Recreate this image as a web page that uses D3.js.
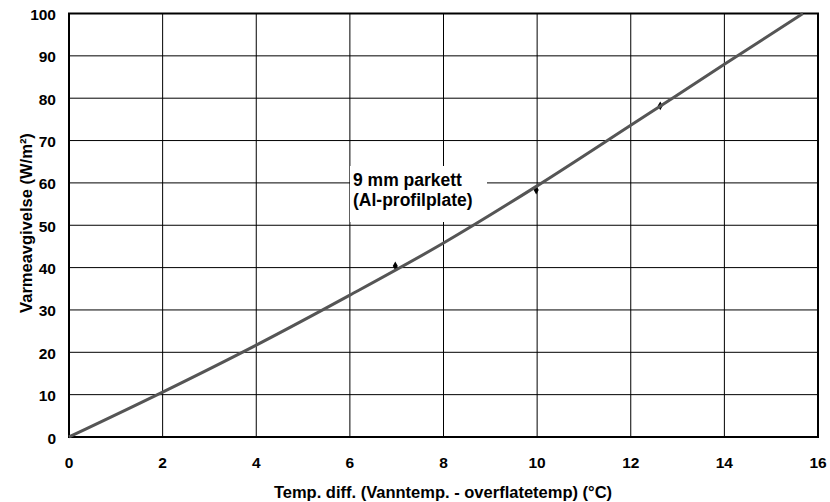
<!DOCTYPE html>
<html>
<head>
<meta charset="utf-8">
<script src="https://cdn.jsdelivr.net/npm/d3@7"></script>
<style>
  body { margin: 0; background: #fff; }
  svg text { font-family: "Liberation Sans", Arial, sans-serif; font-weight: bold; fill: #000; }
</style>
</head>
<body>
<div class="chart"></div>
<script>
// verdier lest fra figuren
const xTicks = [0, 2, 4, 6, 8, 10, 12, 14, 16]
const yTicks = [0, 10, 20, 30, 40, 50, 60, 70, 80, 90, 100]
const curveX = [0, 2, 4, 6, 8, 10, 12, 14, 15.68]
const curveY = [0, 10.6, 21.7, 33.5, 45.8, 59.3, 73.6, 88, 100]
const pointX = [6.97, 9.98, 12.63]
const pointY = [40.4, 58.3, 78.2]
const labelLines = ["9 mm parkett", "(Al-profilplate)"]

const width = 830
const height = 502
const margin = { left: 69, top: 13.5, right: 12, bottom: 65 }

const svg = d3.select(".chart").append("svg")
	.attr("width", width)
	.attr("height", height)

const x = d3.scaleLinear().domain([0, 16]).range([margin.left, width - margin.right])
const y = d3.scaleLinear().domain([0, 100]).range([height - margin.bottom, margin.top])

// rutenett
svg.append("g")
	.selectAll("line")
	.data(xTicks.slice(1, -1))
	.enter()
	.append("line")
	.attr("x1", d => x(d)).attr("x2", d => x(d))
	.attr("y1", y(0)).attr("y2", y(100))
	.attr("stroke", "#000")
	.attr("stroke-width", 1)

svg.append("g")
	.selectAll("line")
	.data(yTicks.slice(1, -1))
	.enter()
	.append("line")
	.attr("x1", x(0)).attr("x2", x(16))
	.attr("y1", d => y(d)).attr("y2", d => y(d))
	.attr("stroke", "#000")
	.attr("stroke-width", 1)

// ramme
svg.append("rect")
	.attr("x", x(0)).attr("y", y(100))
	.attr("width", x(16) - x(0))
	.attr("height", y(0) - y(100))
	.attr("fill", "none")
	.attr("stroke", "#000")
	.attr("stroke-width", 2)

// akser (kun tekst)
svg.append("g")
	.selectAll("text")
	.data(xTicks)
	.enter()
	.append("text")
	.attr("x", d => x(d))
	.attr("y", 468)
	.attr("text-anchor", "middle")
	.attr("font-size", "15.5px")
	.text(d => d)

svg.append("g")
	.selectAll("text")
	.data(yTicks)
	.enter()
	.append("text")
	.attr("x", 56)
	.attr("y", d => y(d) + 6.5)
	.attr("text-anchor", "end")
	.attr("font-size", "15.5px")
	.text(d => d)

svg.append("text")
	.attr("x", 443)
	.attr("y", 497.5)
	.attr("text-anchor", "middle")
	.attr("font-size", "16.5px")
	.text("Temp. diff. (Vanntemp. - overflatetemp) (°C)")

svg.append("text")
	.attr("transform", "translate(31.5,223) rotate(-90)")
	.attr("text-anchor", "middle")
	.attr("font-size", "16.5px")
	.text("Varmeavgivelse (W/m²)")

// etikett-bakgrunn
svg.append("rect")
	.attr("x", 350).attr("y", 166)
	.attr("width", 137).attr("height", 56)
	.attr("fill", "#fff")

// målepunkter
svg.append("g")
	.selectAll("path")
	.data(pointX.map((d, i) => [d, pointY[i]]))
	.enter()
	.append("path")
	.attr("d", d3.symbol().type(d3.symbolDiamond).size(22))
	.attr("transform", d => "translate(" + x(d[0]) + "," + y(d[1]) + ")")
	.attr("fill", "#000")

// kurve
const line = d3.line()
	.x(d => x(d[0]))
	.y(d => y(d[1]))
	.curve(d3.curveMonotoneX)

svg.append("path")
	.datum(curveX.map((d, i) => [d, curveY[i]]))
	.attr("d", line)
	.attr("fill", "none")
	.attr("stroke", "#555")
	.attr("stroke-width", 3)

// etikett
svg.append("g")
	.selectAll("text")
	.data(labelLines)
	.enter()
	.append("text")
	.attr("x", 353)
	.attr("y", (d, i) => 186 + i * 20)
	.attr("font-size", "17.5px")
	.text(d => d)
</script>
</body>
</html>
